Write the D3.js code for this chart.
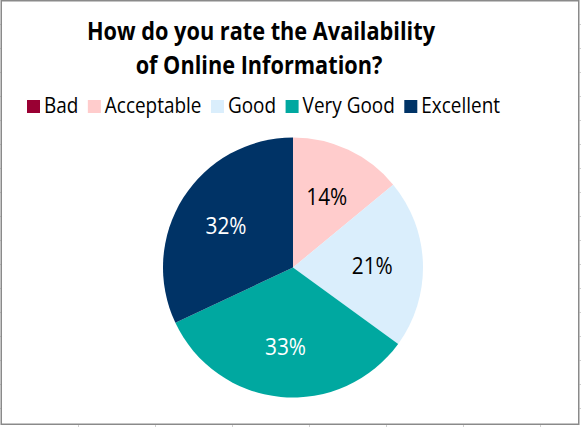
<!DOCTYPE html>
<html><head><meta charset="utf-8">
<script src="https://cdn.jsdelivr.net/npm/d3@7"></script>
<style>html,body{margin:0;padding:0;background:#fff;}svg{display:block;}</style>
</head><body>
<svg id="chart" width="581" height="427"></svg>
<script>
const titleLines = ["How do you rate the Availability", "of Online Information?"];
const categories = ["Bad", "Acceptable", "Good", "Very Good", "Excellent"];
const values = [0, 14, 21, 33, 32];
const colors = ["#990033", "#FFCCCC", "#DAEEFC", "#00A8A0", "#003366"];
const labelColors = ["#ffffff", "#000000", "#000000", "#ffffff", "#ffffff"];

const W = 581, H = 427;
const svg = d3.select("#chart");
const FONT = "'Open Sans', 'Noto Sans', sans-serif";

// cell gridline stubs outside chart border
const grid = svg.append("g").attr("stroke", "#d0d0d0").attr("stroke-width", 1);
d3.range(24, 427, 24).forEach(y => {
  grid.append("line").attr("x1", 0).attr("x2", 1).attr("y1", y + 0.5).attr("y2", y + 0.5);
  grid.append("line").attr("x1", 579.5).attr("x2", 581).attr("y1", y + 0.5).attr("y2", y + 0.5);
});
d3.range(78, 581, 77).forEach(x => {
  grid.append("line").attr("x1", x + 0.5).attr("x2", x + 0.5).attr("y1", 425).attr("y2", 427);
});

// chart area border
svg.append("rect").attr("x", 1.25).attr("y", 0.75).attr("width", 577.5).attr("height", 423.5)
  .attr("fill", "#fff").attr("stroke", "#8a8a8a").attr("stroke-width", 1.5);

function squeeze(sel, factor) {
  sel.each(function () {
    const w = this.getComputedTextLength();
    d3.select(this).attr("textLength", w * factor).attr("lengthAdjust", "spacingAndGlyphs");
  });
}

// title
const tSize = 25;
const t1 = svg.append("text").attr("x", 261).attr("y", 40).attr("text-anchor", "middle")
  .attr("font-family", FONT).attr("font-weight", "bold").attr("font-size", tSize).attr("fill", "#000")
  .text(titleLines[0]);
const t2 = svg.append("text").attr("x", 259).attr("y", 74).attr("text-anchor", "middle")
  .attr("font-family", FONT).attr("font-weight", "bold").attr("font-size", tSize).attr("fill", "#000")
  .text(titleLines[1]);
const tFactor = 348 / t1.node().getComputedTextLength();
squeeze(t1, tFactor); squeeze(t2, tFactor);

// legend
const lSize = 21;
const leg = svg.append("g");
const items = categories.map((c, i) => {
  const g = leg.append("g");
  g.append("rect").attr("width", 13).attr("height", 13).attr("y", 100).attr("fill", colors[i]);
  const tx = g.append("text").attr("x", 17).attr("y", 113).attr("font-family", FONT)
    .attr("font-size", lSize).attr("fill", "#000").text(c);
  return {g, tx, w: tx.node().getComputedTextLength()};
});
const gap = 9.5, sq = 17;
const natural = d3.sum(items, d => d.w);
const lFactor = (473 - sq * items.length - gap * (items.length - 1)) / natural;
let lx = 27;
items.forEach(it => {
  it.tx.attr("textLength", it.w * lFactor).attr("lengthAdjust", "spacingAndGlyphs");
  it.g.attr("transform", `translate(${lx},0)`);
  lx += sq + it.w * lFactor + gap;
});

// pie
const cx = 293, cy = 267.5, r = 130;
const pie = d3.pie().sort(null).value(d => d)(values);
const arc = d3.arc().innerRadius(0).outerRadius(r);
const pg = svg.append("g").attr("transform", `translate(${cx},${cy})`);
pg.selectAll("path").data(pie).join("path").attr("d", arc).attr("fill", (d, i) => colors[i]);

const labelArc = d3.arc().innerRadius(r * 0.61).outerRadius(r * 0.61);
const lbl = pg.selectAll("text.lbl").data(pie.filter(d => d.value > 0)).join("text")
  .attr("class", "lbl").attr("font-family", FONT).attr("font-size", 23.5)
  .attr("text-anchor", "middle").attr("dominant-baseline", "central")
  .attr("fill", d => labelColors[d.index])
  .attr("transform", d => `translate(${labelArc.centroid(d)})`)
  .text(d => d.value + "%");
const pFactor = 41 / lbl.nodes()[0].getComputedTextLength();
squeeze(lbl, pFactor);
</script>
</body></html>
